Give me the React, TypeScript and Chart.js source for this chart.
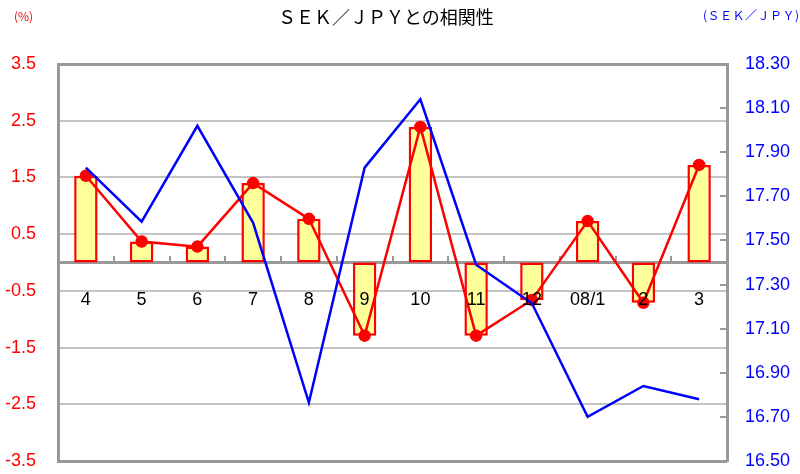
import React, { useEffect, useRef } from "react";
import { Chart, registerables } from "chart.js";

Chart.register(...registerables);

const categories = ["4", "5", "6", "7", "8", "9", "10", "11", "12", "08/1", "2", "3"];
const changePct = [1.53, 0.37, 0.28, 1.4, 0.77, -1.29, 2.39, -1.29, -0.66, 0.73, -0.71, 1.72];
const sekJpy = [17.83, 17.585, 18.02, 17.58, 16.765, 17.83, 18.14, 17.39, 17.215, 16.7, 16.84, 16.78];

const titleText = "ＳＥＫ／ＪＰＹとの相関性";
const leftUnit = "(%)";
const rightUnit = "(ＳＥＫ／ＪＰＹ)";

export default function App() {
  const ref = useRef<HTMLCanvasElement | null>(null);

  useEffect(() => {
    if (!ref.current) return;
    const chart = new Chart(ref.current, {
      type: "bar",
      data: {
        labels: categories,
        datasets: [
          {
            type: "line",
            data: sekJpy,
            borderColor: "#0000ff",
            borderWidth: 2.5,
            pointRadius: 0,
            yAxisID: "y1",
            order: 1,
          },
          {
            type: "line",
            data: changePct,
            borderColor: "#ff0000",
            backgroundColor: "#ff0000",
            borderWidth: 2.5,
            pointRadius: 5,
            pointBackgroundColor: "#ff0000",
            pointBorderColor: "#ff0000",
            yAxisID: "y",
            order: 2,
          },
          {
            type: "bar",
            data: changePct,
            backgroundColor: "#ffff99",
            borderColor: "#ff0000",
            borderWidth: 2.5,
            borderSkipped: false,
            barPercentage: 0.42,
            categoryPercentage: 1,
            yAxisID: "y",
            order: 3,
          },
        ],
      },
      options: {
        animation: false,
        responsive: true,
        maintainAspectRatio: false,
        layout: { padding: { top: 64, bottom: 13, left: 0, right: 0 } },
        plugins: {
          legend: { display: false },
          tooltip: { enabled: false },
          title: { display: false },
        },
        scales: {
          x: {
            type: "category",
            position: { y: 0 },
            offset: true,
            grid: {
              offset: true,
              drawOnChartArea: false,
              drawTicks: true,
              tickLength: -8,
              color: "#999999",
              lineWidth: 2,
            },
            border: { display: true, color: "#999999", width: 3 },
            ticks: {
              z: 1,
              color: "#000000",
              font: { family: "Liberation Sans, Arial", size: 18 },
              padding: 35,
              maxRotation: 0,
              autoSkip: false,
            },
            afterFit: (s: any) => {
              s.height = 0;
            },
          },
          y: {
            position: "left",
            min: -3.5,
            max: 3.5,
            ticks: {
              stepSize: 1,
              color: "#ff0000",
              font: { family: "Liberation Sans, Arial", size: 18 },
              padding: 22,
              callback: (v: any) => Number(v).toFixed(1),
            },
            grid: {
              drawTicks: false,
              color: (ctx: any) =>
                ctx.index === 0 || ctx.index === 7 ? "#999999" : "#c4c4c4",
              lineWidth: (ctx: any) => (ctx.index === 0 || ctx.index === 7 ? 3 : 2),
            },
            border: { display: true, color: "#999999", width: 3 },
            afterFit: (s: any) => {
              s.width = 58;
              s.paddingTop = 0;
              s.paddingBottom = 0;
            },
          },
          y1: {
            position: "right",
            min: 16.5,
            max: 18.3,
            ticks: {
              stepSize: 0.2,
              color: "#0000ff",
              font: { family: "Liberation Sans, Arial", size: 18 },
              padding: 25,
              callback: (v: any) => Number(v).toFixed(2),
            },
            grid: {
              drawOnChartArea: false,
              drawTicks: true,
              tickLength: -7,
              color: "#999999",
              lineWidth: 2,
            },
            border: { display: true, color: "#999999", width: 3 },
            afterFit: (s: any) => {
              s.width = 73;
              s.paddingTop = 0;
              s.paddingBottom = 0;
            },
          },
        },
      },
    });
    return () => chart.destroy();
  }, []);

  return (
    <div
      style={{
        position: "fixed",
        left: 0,
        top: 0,
        width: 800,
        height: 474,
        background: "#ffffff",
      }}
    >
      <div style={{ position: "absolute", left: 0, top: 0, width: 800, height: 474 }}>
        <canvas ref={ref} />
      </div>
      <div
        style={{
          position: "absolute",
          left: 278,
          top: 4,
          fontFamily: "Noto Sans CJK JP",
          fontSize: 18,
          lineHeight: "24px",
          color: "#000000",
          whiteSpace: "nowrap",
        }}
      >
        {titleText}
      </div>
      <div
        style={{
          position: "absolute",
          left: 14,
          top: 7,
          fontFamily: "Noto Sans CJK JP",
          fontSize: 12,
          lineHeight: "18px",
          color: "#ff0000",
          whiteSpace: "nowrap",
        }}
      >
        {leftUnit}
      </div>
      <div
        style={{
          position: "absolute",
          left: 703,
          top: 6,
          fontFamily: "Noto Sans CJK JP",
          fontSize: 12,
          lineHeight: "18px",
          color: "#0000ff",
          whiteSpace: "nowrap",
          letterSpacing: "0.5px",
        }}
      >
        {rightUnit}
      </div>
    </div>
  );
}
